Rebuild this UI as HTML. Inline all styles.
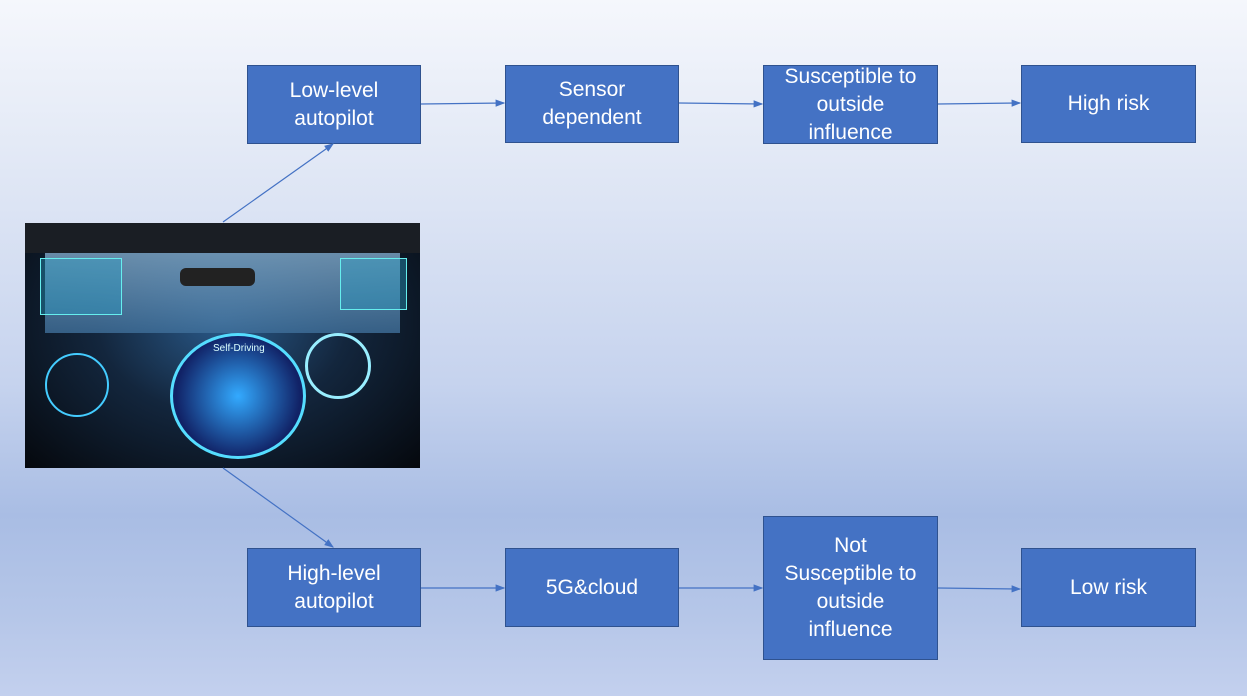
<!DOCTYPE html>
<html><head><meta charset="utf-8"><style>
body{margin:0;width:1247px;height:696px;overflow:hidden;font-family:"Liberation Sans","Noto Sans CJK SC",sans-serif;
background:linear-gradient(180deg,#f5f7fc 0%,#e0e7f5 25%,#c6d3ee 55%,#a9bde4 74%,#b5c6e8 88%,#c3d0ee 100%);position:relative}
.b{position:absolute;background:#4472c4;border:1px solid #2f528f;color:#fff;font-size:21px;line-height:28px;display:flex;align-items:center;justify-content:center;text-align:center;box-sizing:border-box}
.img{position:absolute;left:25px;top:223px;width:395px;height:245px;background:radial-gradient(ellipse at 50% 40%,#2a5a8a 0%,#13263d 45%,#05080d 100%);overflow:hidden}
</style></head><body>
<div class="b" style="left:247px;top:65px;width:174px;height:79px">Low-level<br>autopilot</div>
<div class="b" style="left:505px;top:65px;width:174px;height:78px">Sensor<br>dependent</div>
<div class="b" style="left:763px;top:65px;width:175px;height:79px">Susceptible to<br>outside<br>influence</div>
<div class="b" style="left:1021px;top:65px;width:175px;height:78px">High risk</div>
<div class="b" style="left:247px;top:548px;width:174px;height:79px">High-level<br>autopilot</div>
<div class="b" style="left:505px;top:548px;width:174px;height:79px">5G&amp;cloud</div>
<div class="b" style="left:763px;top:516px;width:175px;height:144px">Not<br>Susceptible to<br>outside<br>influence</div>
<div class="b" style="left:1021px;top:548px;width:175px;height:79px">Low risk</div>
<div class="img">
<div style="position:absolute;left:0;top:0;width:395px;height:30px;background:#1a1e24"></div>
<div style="position:absolute;left:20px;top:30px;width:355px;height:80px;background:linear-gradient(180deg,#7fa8c8,#3f6f9a);opacity:.8"></div>
<div style="position:absolute;left:155px;top:45px;width:75px;height:18px;background:#222;border-radius:6px"></div>
<div style="position:absolute;left:15px;top:35px;width:80px;height:55px;border:1px solid #6ee;background:rgba(40,160,200,.4)"></div>
<div style="position:absolute;left:315px;top:35px;width:65px;height:50px;border:1px solid #6ee;background:rgba(40,160,200,.4)"></div>
<div style="position:absolute;left:145px;top:110px;width:130px;height:120px;border-radius:50%;border:3px solid #5df;background:radial-gradient(circle,#3af 0%,#126 70%)"></div>
<div style="position:absolute;left:280px;top:110px;width:60px;height:60px;border-radius:50%;border:3px solid #9ef"></div>
<div style="position:absolute;left:20px;top:130px;width:60px;height:60px;border-radius:50%;border:2px solid #4cf"></div>
<div style="position:absolute;left:188px;top:120px;color:#dff;font-size:10px">Self-Driving</div>
</div>
<svg width="1247" height="696" style="position:absolute;left:0;top:0">
<defs><marker id="a" markerWidth="8" markerHeight="8" refX="7" refY="4" orient="auto"><path d="M0,1 L8,4 L0,7z" fill="#4472c4"/></marker></defs>
<g stroke="#4472c4" stroke-width="1.2" marker-end="url(#a)">
<line x1="223" y1="222" x2="333" y2="144"/>
<line x1="223" y1="468" x2="333" y2="547"/>
<line x1="421" y1="104" x2="504" y2="103"/>
<line x1="679" y1="103" x2="762" y2="104"/>
<line x1="938" y1="104" x2="1020" y2="103"/>
<line x1="421" y1="588" x2="504" y2="588"/>
<line x1="679" y1="588" x2="762" y2="588"/>
<line x1="938" y1="588" x2="1020" y2="589"/>
</g></svg>
</body></html>
